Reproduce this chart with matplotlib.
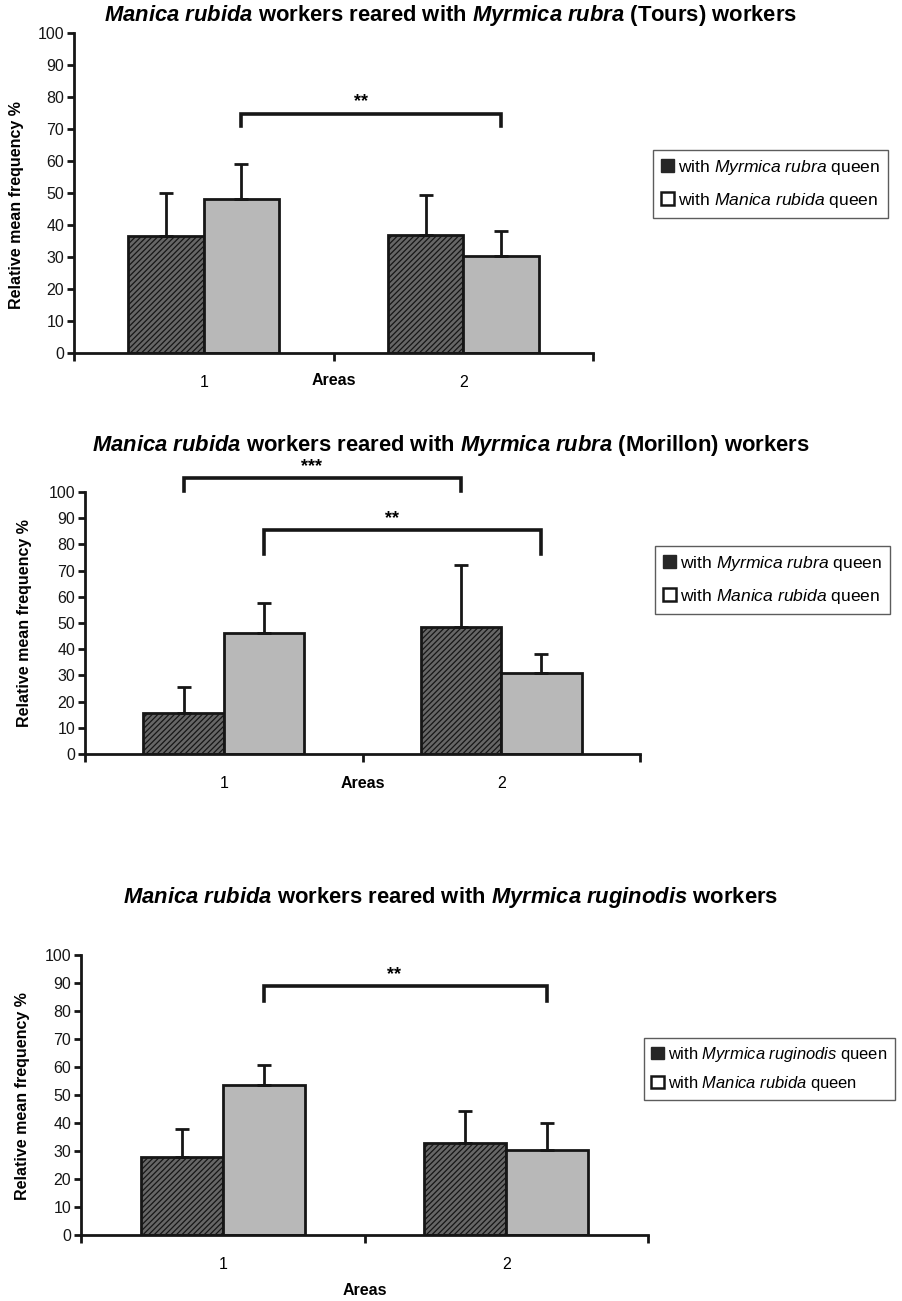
import matplotlib
matplotlib.use("Agg")
import matplotlib.pyplot as plt
from matplotlib.patches import Patch

plt.rcParams['font.family'] = ['Liberation Sans', 'DejaVu Sans']
plt.rcParams['mathtext.fontset'] = 'custom'
plt.rcParams['mathtext.rm'] = 'Liberation Sans'
plt.rcParams['mathtext.it'] = 'Liberation Sans:italic'
plt.rcParams['mathtext.bf'] = 'Liberation Sans:bold'
plt.rcParams['mathtext.bfit'] = 'Liberation Sans:bold:italic'
plt.rcParams['hatch.linewidth'] = 0.9

# relative mean frequency (%) per area, with upper error (SE)
areas = ['1', '2']

tours_rubra_q = [36.5, 37.0]
tours_rubra_q_err = [13.5, 12.5]
tours_manica_q = [48.0, 30.2]
tours_manica_q_err = [11.0, 8.0]

morillon_rubra_q = [15.5, 48.5]
morillon_rubra_q_err = [10.0, 23.5]
morillon_manica_q = [46.0, 30.8]
morillon_manica_q_err = [11.5, 7.5]

rugi_rugi_q = [28.0, 33.0]
rugi_rugi_q_err = [10.0, 11.3]
rugi_manica_q = [53.5, 30.5]
rugi_manica_q_err = [7.3, 9.5]

# significance brackets: (left bar, right bar, height, drop, stars)
# bar index: 0 = hatched area 1, 1 = grey area 1, 2 = hatched area 2, 3 = grey area 2
tours_sig = [(1, 3, 74.8, 3.8, '**')]
morillon_sig = [(0, 2, 105.5, 5.0, '***'), (1, 3, 85.5, 9.0, '**')]
rugi_sig = [(1, 3, 89.0, 5.5, '**')]

titles = [
    r'$\mathbfit{Manica\ rubida}$ workers reared with $\mathbfit{Myrmica\ rubra}$ (Tours) workers',
    r'$\mathbfit{Manica\ rubida}$ workers reared with $\mathbfit{Myrmica\ rubra}$ (Morillon) workers',
    r'$\mathbfit{Manica\ rubida}$ workers reared with $\mathbfit{Myrmica\ ruginodis}$ workers',
]
legend_labels = [
    [r'with $\mathit{Myrmica\ rubra}$ queen', r'with $\mathit{Manica\ rubida}$ queen'],
    [r'with $\mathit{Myrmica\ rubra}$ queen', r'with $\mathit{Manica\ rubida}$ queen'],
    [r'with $\mathit{Myrmica\ ruginodis}$ queen', r'with $\mathit{Manica\ rubida}$ queen'],
]

W, H = 902, 1301
fig = plt.figure(figsize=(W / 100, H / 100), dpi=100)


def px_rect(left, right, top, bottom):
    return [left / W, 1 - bottom / H, (right - left) / W, (bottom - top) / H]


BAR_W = 0.29
HATCH_FC = '#666666'
GREY_FC = '#b8b8b8'
EDGE = '#161616'


def draw_panel(rect, hatched, hatched_err, grey, grey_err, sig, title, title_y,
               labels, leg_box, leg_size, ylab_xy, areas_off):
    ax = fig.add_axes(px_rect(*rect))
    xs = [1, 2]
    hx = [x - BAR_W / 2 for x in xs]
    gx = [x + BAR_W / 2 for x in xs]
    ax.bar(hx, hatched, width=BAR_W, facecolor=HATCH_FC, edgecolor=EDGE,
           hatch='//////', linewidth=2.0, zorder=2)
    ax.bar(gx, grey, width=BAR_W, facecolor=GREY_FC, edgecolor=EDGE,
           linewidth=2.0, zorder=2)
    ax.errorbar(hx, hatched, yerr=[[0, 0], hatched_err], fmt='none',
                ecolor=EDGE, elinewidth=2.0, capsize=5, capthick=2.0, zorder=3)
    ax.errorbar(gx, grey, yerr=[[0, 0], grey_err], fmt='none',
                ecolor=EDGE, elinewidth=2.0, capsize=5, capthick=2.0, zorder=3)

    centers = hx[:1] + gx[:1] + hx[1:] + gx[1:]
    for i, j, top, drop, stars in sig:
        x0, x1 = centers[i], centers[j]
        ax.plot([x0, x0, x1, x1], [top - drop, top, top, top - drop],
                color=EDGE, lw=2.6, solid_joinstyle='miter', clip_on=False, zorder=4)
        ax.text((x0 + x1) / 2 - 0.04, top + 1.0, stars, ha='center', va='bottom',
                fontsize=13, fontweight='bold', clip_on=False)

    ax.set_xlim(0.5, 2.5)
    ax.set_ylim(0, 100)
    ax.set_yticks(range(0, 101, 10))
    ax.spines['top'].set_visible(False)
    ax.spines['right'].set_visible(False)
    for s in ('left', 'bottom'):
        ax.spines[s].set_linewidth(2.0)
        ax.spines[s].set_color(EDGE)
    ax.tick_params(axis='y', direction='out', length=5, width=2, labelsize=11.5,
                   pad=2, colors=EDGE)
    ax.set_xticks([0.5, 1.5, 2.5])
    ax.set_xticklabels(['', '', ''])
    ax.tick_params(axis='x', which='major', direction='out', length=6, width=2,
                   colors=EDGE)
    ax.set_xticks(xs, minor=True)
    ax.set_xticklabels(areas, minor=True)
    ax.tick_params(axis='x', which='minor', length=0, labelsize=11.5, pad=16)

    ax.annotate('Areas', xy=(1.5, 0), xycoords=('data', 'axes fraction'),
                xytext=(0, areas_off), textcoords='offset points', ha='center',
                va='center', fontsize=11.5, fontweight='bold')

    fig.text(ylab_xy[0] / W, 1 - ylab_xy[1] / H, 'Relative mean frequency %',
             rotation=90, ha='center', va='center', fontsize=11.5, fontweight='bold')
    fig.text(0.5, 1 - title_y / H, title, ha='center', va='center',
             fontsize=15.8, fontweight='bold')

    handles = [Patch(facecolor='#262626', edgecolor='#262626', linewidth=1),
               Patch(facecolor='white', edgecolor=EDGE, linewidth=1.8)]
    l, r, t, b = leg_box
    fs, spacing = leg_size
    ax.legend(handles, labels, loc='center left',
              bbox_to_anchor=(l / W, 1 - (t + b) / 2 / H), bbox_transform=fig.transFigure,
              frameon=True, fancybox=False, edgecolor='#333333', fontsize=fs,
              handlelength=0.75, handleheight=0.75, handletextpad=0.25,
              labelspacing=spacing, borderpad=0.45, borderaxespad=0)
    ax.get_legend().get_frame().set_linewidth(1.0)
    return ax


draw_panel((74, 593, 33, 353), tours_rubra_q, tours_rubra_q_err,
           tours_manica_q, tours_manica_q_err, tours_sig, titles[0], 15,
           legend_labels[0], (653, 893, 152, 216), (12.6, 0.8), (17, 205), -20)
draw_panel((85, 640, 492, 754), morillon_rubra_q, morillon_rubra_q_err,
           morillon_manica_q, morillon_manica_q_err, morillon_sig, titles[1], 445,
           legend_labels[1], (655, 895, 548, 612), (12.6, 0.8), (25, 623), -21)
draw_panel((81, 648, 955, 1235), rugi_rugi_q, rugi_rugi_q_err,
           rugi_manica_q, rugi_manica_q_err, rugi_sig, titles[2], 898,
           legend_labels[2], (644, 899, 1041, 1097), (11.9, 0.6), (23, 1096), -40)

fig.savefig('out.png', dpi=100)
